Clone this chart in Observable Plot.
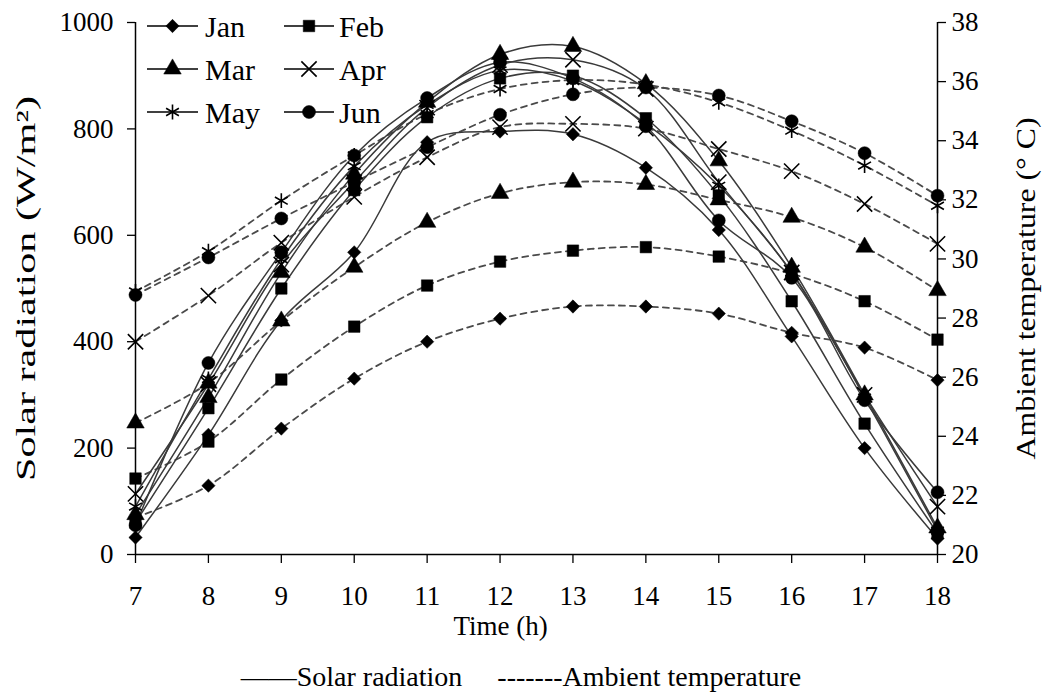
<!DOCTYPE html>
<html><head><meta charset="utf-8">
<script src="https://cdn.jsdelivr.net/npm/d3@7"></script>
<script src="https://cdn.jsdelivr.net/npm/@observablehq/plot@0.6"></script>
<style>
body{margin:0;background:#fff;font-family:"Liberation Serif","DejaVu Serif",serif;}
#wrap{position:relative;width:1042px;height:693px;overflow:hidden;}
#caption{position:absolute;left:0;top:660px;width:1042px;text-align:center;font-size:28px;line-height:34px;color:#000;font-family:"Liberation Serif","DejaVu Serif",serif;}
svg text{font-family:"Liberation Serif","DejaVu Serif",serif;}
</style></head><body>
<div id="wrap"><div id="chart"></div><div id="caption">——Solar radiation&nbsp;&nbsp;&nbsp;&nbsp;&nbsp;-------Ambient temperature</div></div>
<script>
const hours = [7, 8, 9, 10, 11, 12, 13, 14, 15, 16, 17, 18];
const months = ["Jan", "Feb", "Mar", "Apr", "May", "Jun"];
// Solar radiation (W/m2)
const solarJan = [32, 225, 440, 568, 775, 795, 790, 727, 610, 410, 200, 30];
const solarFeb = [60, 275, 500, 685, 822, 895, 900, 820, 675, 476, 246, 40];
const solarMar = [75, 295, 530, 715, 850, 940, 955, 885, 740, 540, 300, 50];
const solarApr = [114, 320, 545, 700, 840, 920, 930, 875, 700, 530, 300, 90];
const solarMay = [90, 330, 555, 730, 845, 910, 890, 810, 693, 530, 295, 45];
const solarJun = [55, 360, 568, 750, 858, 925, 895, 805, 628, 520, 290, 117];
// Ambient temperature (°C)
const tempJan = [21.25, 22.33, 24.26, 25.95, 27.2, 27.98, 28.39, 28.39, 28.15, 27.5, 27.0, 25.9];
const tempFeb = [22.57, 23.82, 25.92, 27.71, 29.1, 29.91, 30.28, 30.4, 30.08, 29.5, 28.57, 27.27];
const tempMar = [24.45, 25.8, 27.9, 29.72, 31.24, 32.22, 32.6, 32.52, 32.0, 31.41, 30.4, 28.93];
const tempApr = [27.2, 28.76, 30.55, 32.1, 33.44, 34.46, 34.57, 34.41, 33.72, 32.97, 31.86, 30.51];
const tempMay = [28.9, 30.26, 31.97, 33.5, 34.9, 35.75, 36.05, 35.9, 35.3, 34.34, 33.16, 31.8];
const tempJun = [28.78, 30.05, 31.37, 32.6, 33.78, 34.88, 35.57, 35.8, 35.53, 34.66, 33.58, 32.14];
const solarTicks = [0, 200, 400, 600, 800, 1000];
const tempTicks = [20, 22, 24, 26, 28, 30, 32, 34, 36, 38];
const yLabelLeft = "Solar radiation (W/m²)";
const yLabelRight = "Ambient temperature (° C)";
const xLabel = "Time (h)";
const symbols = {Jan: "diamond2", Feb: "square", Mar: "triangle", Apr: "times", May: "asterisk", Jun: "circle"};
const filled = {Jan: true, Feb: true, Mar: true, Apr: false, May: false, Jun: true};
const radius = {Jan: 6, Feb: 6.5, Mar: 6.5, Apr: 7, May: 7, Jun: 6.5};

const solarSeries = [solarJan, solarFeb, solarMar, solarApr, solarMay, solarJun];
const tempSeries = [tempJan, tempFeb, tempMar, tempApr, tempMay, tempJun];
const T0 = tempTicks[0], T1 = tempTicks[tempTicks.length - 1];
const S1 = solarTicks[solarTicks.length - 1];
const toY = t => (t - T0) / (T1 - T0) * S1;

const solarRows = [], tempRows = [];
months.forEach((m, i) => {
  hours.forEach((h, j) => {
    solarRows.push({month: m, hour: h, y: solarSeries[i][j]});
    tempRows.push({month: m, hour: h, y: toY(tempSeries[i][j]), t: tempSeries[i][j]});
  });
});

const FONT = "Liberation Serif, DejaVu Serif, serif";
const FS = 27;
const dotMarks = months.map(m => Plot.dot([...solarRows, ...tempRows].filter(d => d.month === m), {
  x: "hour", y: "y", symbol: symbols[m], r: radius[m],
  fill: filled[m] ? "#000" : "none",
  stroke: "#000", strokeWidth: filled[m] ? 0.5 : 1.6
}));

const chart = Plot.plot({
  width: 1042, height: 660,
  marginLeft: 135, marginRight: 105, marginTop: 22, marginBottom: 106,
  style: {fontFamily: FONT, fontSize: FS + "px", background: "#fff", color: "#000"},
  x: {domain: [hours[0], hours[hours.length - 1]]},
  y: {domain: [0, S1]},
  marks: [
    Plot.line(tempRows, {x: "hour", y: "y", z: "month", curve: "catmull-rom", stroke: "#4a4a4a", strokeWidth: 1.8, strokeDasharray: "6,5"}),
    Plot.line(solarRows, {x: "hour", y: "y", z: "month", curve: "catmull-rom", stroke: "#3a3a3a", strokeWidth: 1.5}),
    Plot.ruleX([hours[0], hours[hours.length - 1]], {stroke: "#000", strokeWidth: 1.5}),
    Plot.ruleY([0], {stroke: "#000", strokeWidth: 1.5}),
    ...dotMarks,
    Plot.axisX(hours, {tickSize: 9, tickPadding: 22, fontSize: FS, label: null, strokeWidth: 1.3, tickFormat: d3.format("d")}),
    Plot.axisY(solarTicks, {anchor: "left", tickSize: 8, tickPadding: 14, fontSize: FS, strokeWidth: 1.3,
      tickFormat: d3.format("d"), label: null}),
    Plot.axisY(tempTicks.map(toY), {anchor: "right", tickSize: 8, tickPadding: 6, fontSize: FS, strokeWidth: 1.3,
      tickFormat: d => String(Math.round(T0 + d * (T1 - T0) / S1)), label: null}),
    Plot.text([yLabelLeft], {text: d => d, frameAnchor: "left", textAnchor: "middle", rotate: -90, dx: -109, fontSize: 27}),
    Plot.text([yLabelRight], {text: d => d, frameAnchor: "right", textAnchor: "middle", rotate: -90, dx: 89, fontSize: 27}),
    Plot.text([xLabel], {text: d => d, frameAnchor: "bottom", dy: 80, dx: -36, fontSize: FS})
  ]
});
document.getElementById("chart").appendChild(chart);

// Stretch rotated axis titles along their length, as in the reference
const svg = d3.select(chart);
svg.selectAll("text").filter(function () { return this.textContent === yLabelLeft; })
  .attr("textLength", 385).attr("lengthAdjust", "spacingAndGlyphs");
svg.selectAll("text").filter(function () { return this.textContent === yLabelRight; })
  .attr("textLength", 342).attr("lengthAdjust", "spacingAndGlyphs");

// Legend (inside plot, top-left)
const leg = svg.append("g").attr("font-family", FONT).attr("font-size", 30).attr("text-anchor", "start");
const symMap = {diamond2: d3.symbolDiamond2, square: d3.symbolSquare, triangle: d3.symbolTriangle, times: d3.symbolTimes, asterisk: d3.symbolAsterisk, circle: d3.symbolCircle};
const cols = [{x0: 147, x1: 198, tx: 205}, {x0: 284, x1: 334, tx: 339}];
const rowsY = [26, 69, 112];
months.forEach((m, i) => {
  const c = cols[i % 2], ry = rowsY[Math.floor(i / 2)];
  const g = leg.append("g");
  g.append("line").attr("x1", c.x0).attr("x2", c.x1).attr("y1", ry).attr("y2", ry).attr("stroke", "#000").attr("stroke-width", 1.5);
  const r = radius[m];
  g.append("path").attr("transform", `translate(${(c.x0 + c.x1) / 2},${ry})`)
    .attr("d", d3.symbol(symMap[symbols[m]], Math.PI * r * r)())
    .attr("fill", filled[m] ? "#000" : "none").attr("stroke", "#000").attr("stroke-width", filled[m] ? 0.5 : 1.6);
  g.append("text").attr("x", c.tx).attr("y", ry).attr("dy", "0.35em").attr("text-anchor", "start").text(m);
});
</script>
</body></html>
